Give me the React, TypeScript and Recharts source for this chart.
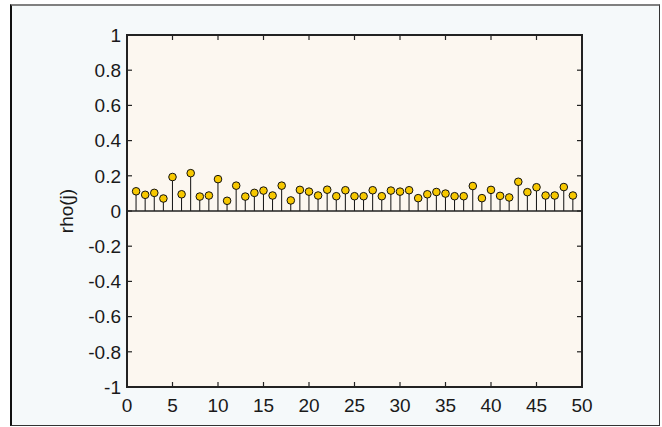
import React from 'react';
import { ComposedChart, Bar, Line, XAxis, YAxis, CartesianGrid, ReferenceLine } from 'recharts';

// lag j and autocorrelation rho(j)
const lags = [
  1, 2, 3, 4, 5, 6, 7, 8, 9, 10, 11, 12, 13, 14, 15, 16, 17, 18, 19, 20, 21, 22, 23, 24, 25,
  26, 27, 28, 29, 30, 31, 32, 33, 34, 35, 36, 37, 38, 39, 40, 41, 42, 43, 44, 45, 46, 47, 48, 49,
];
const rho = [
  0.112, 0.092, 0.103, 0.071, 0.193, 0.095, 0.215, 0.082, 0.088, 0.181,
  0.058, 0.144, 0.082, 0.103, 0.116, 0.088, 0.144, 0.06, 0.12, 0.11,
  0.088, 0.121, 0.084, 0.118, 0.084, 0.084, 0.118, 0.084, 0.116, 0.11,
  0.118, 0.073, 0.095, 0.108, 0.099, 0.084, 0.084, 0.142, 0.073, 0.12,
  0.086, 0.077, 0.166, 0.107, 0.135, 0.088, 0.088, 0.136, 0.088,
];
const xTicks = [0, 5, 10, 15, 20, 25, 30, 35, 40, 45, 50];
const yTicks = [-1, -0.8, -0.6, -0.4, -0.2, 0, 0.2, 0.4, 0.6, 0.8, 1];

const data = lags.map((j, i) => ({ j, rho: rho[i] }));

const FONT = 'Liberation Sans, Arial, sans-serif';
const TICK_LEN = 5;
const INK = '#222';

const W = 662;
const H = 427;
const MARGIN = { top: 35, right: 80, bottom: 10, left: 67 };
const PLOT_TOP = MARGIN.top;
const PLOT_RIGHT = W - MARGIN.right;
const PLOT_LEFT = MARGIN.left + 60;
const PLOT_BOTTOM = H - MARGIN.bottom - 30;

// ticks point into the plot (on all four sides), labels stay outside
const BottomTick = (props: any) => {
  const { x, y, payload } = props;
  const axisY = y - 12;
  return (
    <g>
      <line x1={x} x2={x} y1={axisY} y2={axisY - TICK_LEN} stroke={INK} strokeWidth={1.2} />
      <line x1={x} x2={x} y1={PLOT_TOP} y2={PLOT_TOP + TICK_LEN} stroke={INK} strokeWidth={1.2} />
      <text x={x} y={y} dy="0.71em" textAnchor="middle" fontSize={19} fill="#1a1a1a" fontFamily={FONT}>
        {payload.value}
      </text>
    </g>
  );
};

const LeftTick = (props: any) => {
  const { x, y, payload } = props;
  const axisX = x + 6;
  return (
    <g>
      <line x1={axisX} x2={axisX + TICK_LEN} y1={y} y2={y} stroke={INK} strokeWidth={1.2} />
      <line x1={PLOT_RIGHT} x2={PLOT_RIGHT - TICK_LEN} y1={y} y2={y} stroke={INK} strokeWidth={1.2} />
      <text x={x} y={y} dy="0.355em" textAnchor="end" fontSize={19} fill="#1a1a1a" fontFamily={FONT}>
        {payload.value}
      </text>
    </g>
  );
};

export default function App() {
  return (
    <div style={{ position: 'absolute', left: 0, top: 0, width: W, height: H, background: '#fff' }}>
      <div
        style={{
          position: 'absolute',
          left: 10,
          top: 4,
          width: 647,
          height: 419,
          background: '#f5f9fa',
          borderTop: '2px solid #808080',
          borderLeft: '2px solid #111',
          borderRight: '1px solid #333',
          borderBottom: '1px solid #333',
        }}
      />
      <div style={{ position: 'absolute', left: 0, top: 0 }}>
        <ComposedChart width={W} height={H} data={data} margin={MARGIN}>
          <CartesianGrid fill="#fcf7f0" horizontal={false} vertical={false} />
          <XAxis
            dataKey="j"
            type="number"
            domain={[0, 50]}
            ticks={xTicks}
            height={30}
            tickSize={0}
            tickMargin={12}
            tickLine={false}
            tick={<BottomTick />}
            axisLine={{ stroke: INK, strokeWidth: 2 }}
          />
          <YAxis
            type="number"
            domain={[-1, 1]}
            ticks={yTicks}
            width={60}
            tickSize={0}
            tickMargin={6}
            tickLine={false}
            tick={<LeftTick />}
            axisLine={{ stroke: INK, strokeWidth: 2 }}
            label={{
              value: 'rho(j)',
              angle: -90,
              position: 'insideLeft',
              offset: -1,
              style: { fontSize: 19, fill: '#1a1a1a', fontFamily: FONT, textAnchor: 'middle' },
            }}
          />
          <ReferenceLine y={0} stroke={INK} strokeWidth={1.6} />
          <Bar dataKey="rho" barSize={1} fill="#111" isAnimationActive={false} />
          <Line
            dataKey="rho"
            stroke="none"
            dot={{ r: 3.8, fill: '#f7c800', stroke: '#111', strokeWidth: 1 }}
            activeDot={false}
            isAnimationActive={false}
          />
        </ComposedChart>
      </div>
      {/* closed box round the plot */}
      <div
        style={{
          position: 'absolute',
          boxSizing: 'border-box',
          left: PLOT_LEFT - 1,
          top: PLOT_TOP - 1,
          width: PLOT_RIGHT - PLOT_LEFT + 2,
          height: PLOT_BOTTOM - PLOT_TOP + 2,
          border: '2px solid ' + INK,
          pointerEvents: 'none',
        }}
      />
    </div>
  );
}
